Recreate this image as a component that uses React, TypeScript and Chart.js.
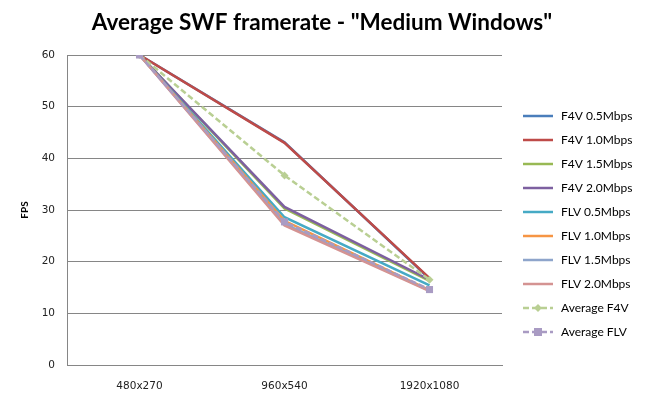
import React, { useEffect, useRef } from "react";
import { Chart, registerables } from "chart.js";

Chart.register(...registerables);

const categories = ["480x270", "960x540", "1920x1080"];
const f4v05 = [60, 43.1, 16.7];
const f4v10 = [60, 43.0, 16.8];
const f4v15 = [60, 30.3, 16.3];
const f4v20 = [60, 30.6, 16.5];
const flv05 = [60, 28.6, 15.4];
const flv10 = [60, 27.9, 14.5];
const flv15 = [60, 27.3, 14.4];
const flv20 = [60, 27.0, 14.3];
const avgF4v = [60, 36.7, 16.5];
const avgFlv = [60, 27.7, 14.6];

const seriesLabels = [
  "F4V 0.5Mbps",
  "F4V 1.0Mbps",
  "F4V 1.5Mbps",
  "F4V 2.0Mbps",
  "FLV 0.5Mbps",
  "FLV 1.0Mbps",
  "FLV 1.5Mbps",
  "FLV 2.0Mbps",
  "Average F4V",
  "Average FLV",
];
const seriesValues = [f4v05, f4v10, f4v15, f4v20, flv05, flv10, flv15, flv20, avgF4v, avgFlv];
const seriesColors = [
  "#4A7EBB",
  "#BE4B48",
  "#98B954",
  "#7D60A0",
  "#46AAC5",
  "#F69544",
  "#8EA5CB",
  "#D49392",
  "#B9CF93",
  "#A99BC3",
];

const titleText = 'Average SWF framerate - "Medium Windows"';

const titlePlugin = {
  id: "customTitle",
  afterDraw(chart: any) {
    const ctx = chart.ctx;
    ctx.save();
    ctx.font = "bold 22.5px Lato";
    ctx.fillStyle = "#000";
    ctx.textAlign = "center";
    ctx.textBaseline = "middle";
    ctx.fillText(titleText, 322, 23);
    ctx.restore();
  },
};

const legendPlugin = {
  id: "customLegend",
  afterDraw(chart: any) {
    const ctx = chart.ctx;
    const x0 = chart.chartArea.right + 21;
    const y0 = 116;
    const step = 24;
    chart.data.datasets.forEach((ds: any, i: number) => {
      const y = y0 + i * step;
      ctx.save();
      ctx.strokeStyle = ds.borderColor;
      ctx.lineWidth = ds.borderWidth;
      ctx.setLineDash(ds.borderDash || []);
      ctx.beginPath();
      ctx.moveTo(x0, y);
      ctx.lineTo(x0 + 30, y);
      ctx.stroke();
      ctx.setLineDash([]);
      if (ds.pointRadius > 0) {
        ctx.fillStyle = ds.pointBackgroundColor;
        const r = ds.pointRadius;
        const cx = x0 + 15;
        ctx.beginPath();
        if (ds.pointStyle === "rectRot") {
          ctx.moveTo(cx, y - r);
          ctx.lineTo(cx + r, y);
          ctx.lineTo(cx, y + r);
          ctx.lineTo(cx - r, y);
          ctx.closePath();
        } else {
          ctx.rect(cx - r * 0.8, y - r * 0.8, r * 1.6, r * 1.6);
        }
        ctx.fill();
      }
      ctx.font = "12px Lato";
      ctx.fillStyle = "#000";
      ctx.textAlign = "left";
      ctx.textBaseline = "middle";
      ctx.fillText(ds.label, x0 + 38, y);
      ctx.restore();
    });
  },
};

export default function App() {
  const canvasRef = useRef<HTMLCanvasElement | null>(null);

  useEffect(() => {
    if (!canvasRef.current) return;
    const n = seriesLabels.length;
    const datasets = seriesLabels.map((label, i) => {
      const isAvg = i >= 8;
      return {
        label,
        data: seriesValues[i],
        borderColor: seriesColors[i],
        backgroundColor: seriesColors[i],
        borderWidth: 2.5,
        borderDash: isAvg ? [6, 3] : [],
        pointRadius: isAvg ? (i === 8 ? 4 : 5) : 0,
        pointStyle: i === 8 ? "rectRot" : "rect",
        pointBackgroundColor: seriesColors[i],
        pointBorderColor: seriesColors[i],
        pointBorderWidth: 0,
        tension: 0,
        fill: false,
        order: n - i,
      };
    });

    const chart = new Chart(canvasRef.current, {
      type: "line",
      data: { labels: categories, datasets },
      options: {
        responsive: false,
        animation: false,
        devicePixelRatio: 1,
        layout: { padding: { top: 55, right: 143, left: 0, bottom: 0 } },
        plugins: {
          legend: { display: false },
          title: { display: false },
          tooltip: { enabled: false },
        },
        scales: {
          x: {
            offset: true,
            grid: { display: false, drawTicks: false },
            border: { display: true, color: "#868686", width: 1 },
            ticks: {
              font: { family: "DejaVu Sans", size: 10.5 },
              color: "#222",
              padding: 15,
              maxRotation: 0,
            },
            afterFit(scale: any) {
              scale.height = 44;
            },
          },
          y: {
            min: 0,
            max: 60,
            ticks: {
              stepSize: 10,
              font: { family: "DejaVu Sans", size: 10.5 },
              color: "#222",
              padding: 12,
            },
            grid: { color: "#868686", lineWidth: 1, drawTicks: false },
            border: { display: true, color: "#868686", width: 1 },
            title: {
              display: true,
              text: "FPS",
              font: { family: "Lato", size: 10, weight: "bold" },
              color: "#000",
              padding: { top: 19, bottom: 0 },
            },
            afterFit(scale: any) {
              scale.width = 67;
            },
          },
        },
      },
      plugins: [titlePlugin, legendPlugin],
    } as any);

    return () => chart.destroy();
  }, []);

  return (
    <div style={{ position: "absolute", left: 0, top: 0, width: 645, height: 409, background: "#fff" }}>
      <canvas ref={canvasRef} width={645} height={409} />
    </div>
  );
}
